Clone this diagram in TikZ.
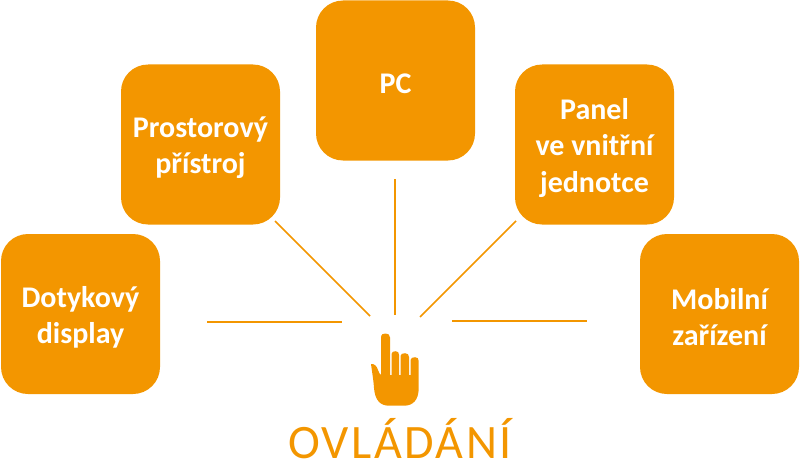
\documentclass[tikz,border=0pt]{standalone}
\usepackage{fontspec}
\setmainfont{Carlito}
\definecolor{ora}{RGB}{243,150,0}
\tikzset{
  card/.style={fill=ora,draw=none,rounded corners=27pt,minimum width=159pt,minimum height=160pt,inner sep=0pt},
  cardtext/.style={yshift=-3.3pt,inner sep=0pt,text=white,align=center,font=\fontsize{30pt}{36.3pt}\selectfont\bfseries},
  ray/.style={draw=ora,line width=1.6pt},
  hand/.style={fill=ora,draw=none}
}
\begin{document}
\begin{tikzpicture}[x=1pt,y=-1pt]
\useasboundingbox (0,0) rectangle (800,460);
\node[card,label={[cardtext]center:Dotykový\\display}] (dotyk) at (80.5,314) {};
\node[card,label={[cardtext]center:Prostorový\\přístroj}] (prostor) at (200.5,144.5) {};
\node[card,label={[cardtext]center:PC}] (pc) at (395.5,80.5) {};
\node[card,label={[cardtext]center:Panel\\ve vnitřní\\jednotce}] (panel) at (594.5,144.5) {};
\node[card,label={[cardtext]center:Mobilní\\zařízení}] (mobil) at (719.5,314) {};
\node[text=ora,inner sep=0pt,font=\fontsize{48pt}{48pt}\selectfont\addfontfeatures{LetterSpace=5.2},anchor=base] (title) at (400,458) {OVLÁDÁNÍ};
\coordinate (a1) at (207,322); \coordinate (a2) at (342,322);
\coordinate (b1) at (275,221); \coordinate (b2) at (370,316);
\coordinate (c1) at (395,179); \coordinate (c2) at (395,315);
\coordinate (d1) at (516,221); \coordinate (d2) at (420,317);
\coordinate (e1) at (452,321); \coordinate (e2) at (587,321);
\draw[ray] (a1) -- (a2);
\draw[ray] (b1) -- (b2);
\draw[ray] (c1) -- (c2);
\draw[ray] (d1) -- (d2);
\draw[ray] (e1) -- (e2);
% hand
\fill[hand] (381,337.5) .. controls (381,334) and (383.5,333.5) .. (385.5,333.5)
  .. controls (388,333.5) and (390,334.5) .. (390,337.5)
  -- (390,375) -- (391.5,375) -- (391.5,354)
  .. controls (391.5,352) and (393.5,351.2) .. (395.5,351.2)
  .. controls (398,351.2) and (399,352.5) .. (399,355)
  -- (399,375) -- (400.5,375) -- (400.5,356)
  .. controls (400.5,354) and (402.5,353.2) .. (405,353.2)
  .. controls (407.5,353.2) and (409,354.5) .. (409,357)
  -- (409,375) -- (410.5,375) -- (410.5,360)
  .. controls (410.5,358) and (413,357.2) .. (415,357.2)
  .. controls (417.5,357.2) and (418.7,358.5) .. (418.7,361)
  -- (418.7,388)
  .. controls (418.7,400) and (413,405.7) .. (404,405.7)
  -- (389,405.7)
  .. controls (380,405.7) and (375,400) .. (374,388)
  .. controls (373.5,380) and (372,372) .. (371,364)
  .. controls (374,363.5) and (377,366) .. (378,370)
  .. controls (379,373) and (380,374.5) .. (381,375)
  -- cycle;
\end{tikzpicture}
\end{document}
